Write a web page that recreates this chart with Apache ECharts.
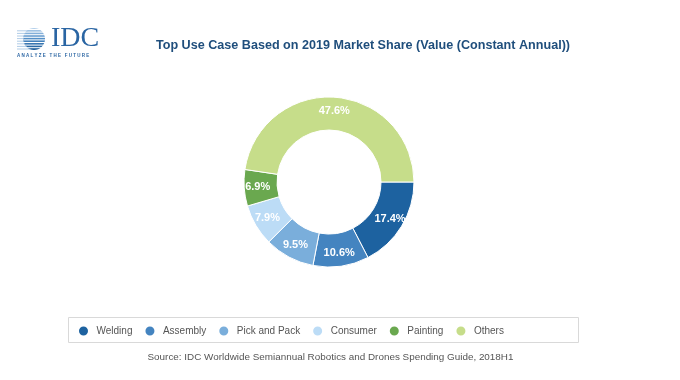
<!DOCTYPE html>
<html><head><meta charset="utf-8">
<script src="https://cdn.jsdelivr.net/npm/echarts@6/dist/echarts.min.js"></script>
<style>html,body{margin:0;padding:0;background:#fff}#c{width:680px;height:380px}</style>
</head><body><div id="c"></div>
<script>
const categories = ['Welding','Assembly','Pick and Pack','Consumer','Painting','Others'];
const shares = [17.4, 10.6, 9.5, 7.9, 6.9, 47.6];
const colors = ['#1d62a0','#4484c0','#7aaedb','#bcdcf6','#6aa84f','#c6dd8a'];
const titleText = 'Top Use Case Based on 2019 Market Share (Value (Constant Annual))';
const sourceText = 'Source: IDC Worldwide Semiannual Robotics and Drones Spending Guide, 2018H1';

const chart = echarts.init(document.getElementById('c'));
const F = 'Arial, "Liberation Sans", sans-serif';
const logo = [];
logo.push({type:'circle', shape:{cx:34, cy:39, r:11}, style:{fill:new echarts.graphic.LinearGradient(0,0,0,1,[{offset:0,color:'#b7d2ec'},{offset:0.5,color:'#4f8cc6'},{offset:1,color:'#1a5996'}])}});
for (let y = 29.5; y <= 50; y += 2.6) {
  logo.push({type:'line', shape:{x1:16, y1:y, x2:51, y2:y}, style:{stroke:'#ffffff', lineWidth:1}});
}
for (let y = 30.8; y <= 50; y += 2.6) {
  const dy = y - 39; const hw = Math.sqrt(Math.max(0, 121 - dy*dy));
  logo.push({type:'line', shape:{x1:17, y1:y, x2:34 - hw + 1, y2:y}, style:{stroke:'#9cbfe0', lineWidth:0.8}});
}
logo.push({type:'text', style:{x:51, y:25, text:'IDC', font:'28px "Liberation Serif", "DejaVu Serif", serif', fill:'#2a65a3'}});
logo.push({type:'text', style:{x:17, y:53, text:'A N A L Y Z E   T H E   F U T U R E', font:'bold 4.5px ' + F, fill:'#2a65a3'}});

chart.setOption({
  color: colors,
  title: {
    text: titleText, left: 358, top: 34, textAlign: 'center',
    textStyle: {fontFamily: F, fontSize: 12.6, fontWeight: 'bold', color: '#1f4e7c'}
  },
  legend: {
    left: 72, top: 319.5, icon: 'circle', itemWidth: 16, itemHeight: 11, itemGap: 11,
    textStyle: {fontFamily: F, fontSize: 10, color: '#555'},
    data: categories
  },
  graphic: [
    {type:'rect', shape:{x:68.5, y:317.5, width:510, height:25}, style:{fill:'none', stroke:'#d9d9d9', lineWidth:1}, z:-1},
    {type:'text', x: 330.5, y: 352, style:{text: sourceText, font: '9.9px ' + F, fill:'#555', align:'center'}},
    {type:'group', children: logo}
  ],
  series: [{
    type: 'pie',
    center: [329, 182],
    radius: [52, 85],
    startAngle: 0,
    clockwise: true,
    avoidLabelOverlap: false,
    label: {
      show: true, position: 'inside', formatter: p => p.value.toFixed(1) + '%',
      fontFamily: F, fontSize: 11, fontWeight: 'bold', color: '#fff'
    },
    labelLine: {show: false},
    itemStyle: {borderColor: '#fff', borderWidth: 1},
    emphasis: {disabled: true},
    data: categories.map((c,i)=>({name:c, value:shares[i]}))
  }]
});
</script></body></html>
